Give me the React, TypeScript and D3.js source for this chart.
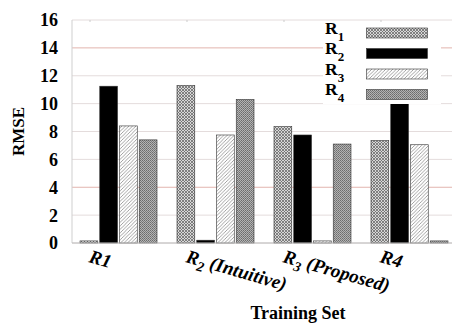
import React from 'react';
import * as d3 from 'd3';

// training sets (x groups), "_n" marks a subscript
const categories: string[] = ['R1', 'R_2 (Intuitive)', 'R_3 (Proposed)', 'R4'];
const seriesNames: string[] = ['1', '2', '3', '4'];

// RMSE per series, one value per training set
const r1Values: number[] = [0.15, 11.3, 8.35, 7.35];
const r2Values: number[] = [11.25, 0.2, 7.75, 10.1];
const r3Values: number[] = [8.4, 7.75, 0.15, 7.05];
const r4Values: number[] = [7.4, 10.3, 7.1, 0.15];

const yTicks: number[] = [0, 2, 4, 6, 8, 10, 12, 14, 16];
const redGrid: number[] = [4, 14];

const seriesValues = [r1Values, r2Values, r3Values, r4Values];
const fills = ['url(#pR1)', '#000', 'url(#pR3)', 'url(#pR4)'];

const W = 455;
const H = 324;
const margin = { top: 20, left: 72, bottom: 81 };
const plotBottom = H - margin.bottom;
const plotRight = 452;

const x0 = d3
  .scaleBand<string>()
  .domain(categories)
  .range([margin.left, 456])
  .paddingInner(0.206)
  .paddingOuter(0.0825);

const x1 = d3
  .scaleBand<string>()
  .domain(seriesNames)
  .range([0, x0.bandwidth()])
  .paddingInner(0.1);

const y = d3.scaleLinear().domain([0, 16]).range([plotBottom, margin.top]);

const serif = "'Liberation Serif', 'DejaVu Serif', serif";

function splitLabel(s: string) {
  const m = s.match(/^(\w)_(\d)(.*)$/);
  if (!m) return { main: s, sub: '', rest: '' };
  return { main: m[1], sub: m[2], rest: m[3] };
}

export default function App() {
  return (
    <svg
      width={W}
      height={H}
      style={{ position: 'absolute', left: 0, top: 0, background: '#fff', fontFamily: serif }}
    >
      <defs>
        <pattern id="pR1" width="3" height="3" patternUnits="userSpaceOnUse">
          <rect width="3" height="3" fill="#d8d8d8" />
          <path d="M0,0L3,3M3,0L0,3" stroke="#6a6a6a" strokeWidth="0.8" />
        </pattern>
        <pattern id="pR3" width="3.5" height="3.5" patternUnits="userSpaceOnUse">
          <rect width="3.5" height="3.5" fill="#fff" />
          <path d="M-1,4.5L4.5,-1M-1,1L1,-1M2.5,4.5L4.5,2.5" stroke="#8a8a8a" strokeWidth="0.8" />
        </pattern>
        <pattern id="pR4" width="2" height="2" patternUnits="userSpaceOnUse">
          <rect width="2" height="2" fill="#b4b4b4" />
          <rect width="1" height="1" fill="#6c6c6c" />
          <rect x="1" y="1" width="1" height="1" fill="#7c7c7c" />
        </pattern>
      </defs>

      {/* grid */}
      {yTicks.map((t) => (
        <line
          key={'g' + t}
          x1={margin.left}
          x2={plotRight}
          y1={y(t)}
          y2={y(t)}
          stroke={redGrid.includes(t) ? '#e2b4ae' : '#e4dcdc'}
          strokeWidth={1}
        />
      ))}
      {categories.map((c) => (
        <line
          key={'tk' + c}
          x1={(x0(c) || 0) + 10}
          x2={(x0(c) || 0) + 10}
          y1={margin.top}
          y2={margin.top + 2}
          stroke="#ccc"
        />
      ))}
      <line x1={margin.left} x2={margin.left} y1={margin.top} y2={plotBottom} stroke="#cfcfcf" />

      {/* bars */}
      {categories.map((c, ci) => (
        <g key={c} transform={`translate(${x0(c)},0)`}>
          {seriesNames.map((s, si) => {
            const v = seriesValues[si][ci];
            return (
              <rect
                key={s}
                x={x1(s)}
                y={y(v)}
                width={x1.bandwidth()}
                height={plotBottom - y(v)}
                fill={fills[si]}
                stroke="#333"
                strokeWidth={0.6}
              />
            );
          })}
        </g>
      ))}
      <line x1={margin.left} x2={plotRight} y1={plotBottom} y2={plotBottom} stroke="#bbb" strokeWidth={1.2} />

      {/* y axis labels */}
      {yTicks.map((t) => (
        <text
          key={'y' + t}
          x={58}
          y={y(t)}
          dy="0.36em"
          textAnchor="end"
          fontSize={18}
          fontWeight="bold"
        >
          {t}
        </text>
      ))}
      <text
        transform={`translate(24,${(margin.top + plotBottom) / 2}) rotate(-90)`}
        textAnchor="middle"
        fontSize={17}
        fontWeight="bold"
      >
        RMSE
      </text>

      {/* x labels */}
      {categories.map((c) => {
        const p = splitLabel(c);
        const xs = (x0(c) || 0) + 8;
        return (
          <text
            key={'x' + c}
            transform={`translate(${xs},262) rotate(16)`}
            fontSize={19}
            fontWeight="bold"
            fontStyle="italic"
          >
            {p.main}
            {p.sub && (
              <tspan dy={5} fontSize={14}>
                {p.sub}
              </tspan>
            )}
            {p.rest && <tspan dy={-5}>{p.rest}</tspan>}
          </text>
        );
      })}
      <text x={298} y={319} textAnchor="middle" fontSize={18} fontWeight="bold">
        Training Set
      </text>

      {/* legend */}
      <rect x={323} y={22} width={118} height={82} fill="#fff" />
      {seriesNames.map((s, i) => {
        const ry = 33.5 + i * 20.5;
        return (
          <g key={'l' + s}>
            <text x={325} y={ry} fontSize={17.5} fontWeight="bold">
              R
              <tspan dy={7} fontSize={13}>
                {s}
              </tspan>
            </text>
            <rect
              x={366.5}
              y={ry - 5.5}
              width={61}
              height={10}
              fill={fills[i]}
              stroke="#333"
              strokeWidth={0.6}
            />
          </g>
        );
      })}
    </svg>
  );
}
